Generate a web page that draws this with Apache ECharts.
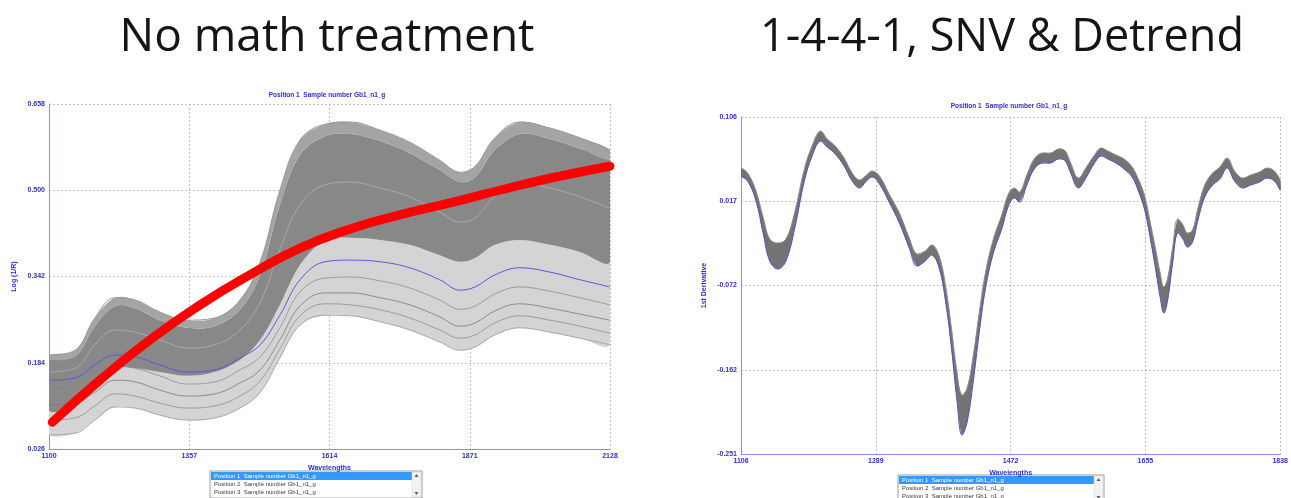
<!DOCTYPE html>
<html>
<head>
<meta charset="utf-8">
<title>NIR spectra before and after math treatment</title>
<script src="https://cdn.jsdelivr.net/npm/echarts@6/dist/echarts.min.js"></script>
<style>
  html, body { margin: 0; padding: 0; background: #ffffff; }
  #chart { width: 1291px; height: 498px; }
</style>
</head>
<body>
<div id="chart"></div>
<script>
// ---------- Raw spectra, log(1/R) ----------
const nirWl = [1100, 1148, 1184, 1221, 1258, 1303, 1353, 1404, 1450, 1487, 1523, 1560,
               1606, 1652, 1707, 1761, 1816, 1853, 1881, 1917, 1963, 2018, 2073, 2128];
const rawTop        = [0.198,0.207,0.266,0.303,0.299,0.277,0.262,0.266,0.299,0.369,0.500,0.592,0.621,0.625,0.610,0.588,0.555,0.533,0.544,0.596,0.625,0.614,0.596,0.574];
const rawCoreTop    = [0.189,0.196,0.251,0.288,0.284,0.262,0.248,0.251,0.281,0.345,0.473,0.565,0.599,0.603,0.590,0.568,0.537,0.515,0.524,0.574,0.603,0.594,0.576,0.555];
const rawCore1      = [0.167,0.174,0.217,0.244,0.240,0.226,0.211,0.217,0.244,0.295,0.391,0.473,0.510,0.515,0.504,0.488,0.460,0.442,0.449,0.489,0.513,0.504,0.488,0.467];
const rawCoreBottom = [0.097,0.107,0.143,0.174,0.174,0.167,0.160,0.167,0.189,0.226,0.290,0.363,0.409,0.413,0.409,0.400,0.381,0.369,0.376,0.400,0.409,0.400,0.387,0.369];
const rawBlue       = [0.152,0.156,0.180,0.198,0.195,0.180,0.167,0.171,0.193,0.217,0.271,0.336,0.369,0.372,0.369,0.358,0.336,0.317,0.323,0.345,0.358,0.350,0.336,0.323];
const rawMid1       = [0.130,0.134,0.160,0.178,0.174,0.160,0.145,0.149,0.171,0.195,0.248,0.314,0.339,0.341,0.334,0.321,0.299,0.282,0.288,0.310,0.323,0.315,0.303,0.290];
const rawMid2       = [0.107,0.110,0.130,0.152,0.149,0.134,0.123,0.127,0.147,0.171,0.226,0.288,0.312,0.312,0.303,0.290,0.268,0.251,0.257,0.279,0.292,0.284,0.273,0.262];
const rawMid3       = [0.079,0.083,0.105,0.127,0.123,0.110,0.101,0.105,0.123,0.151,0.209,0.270,0.292,0.290,0.281,0.266,0.244,0.229,0.235,0.257,0.270,0.262,0.251,0.238];
const rawBottom     = [0.052,0.055,0.079,0.103,0.101,0.088,0.079,0.083,0.101,0.130,0.193,0.253,0.271,0.270,0.259,0.244,0.222,0.207,0.213,0.235,0.248,0.240,0.229,0.217];

// Red trend curve drawn over the raw spectra
const trendWl  = [1106, 1193, 1285, 1377, 1468, 1560, 1652, 1743, 1835, 1926, 2018, 2128];
const trendVal = [0.075,0.152,0.226,0.290,0.345,0.394,0.429,0.455,0.477,0.500,0.522,0.544];

// Axis ticks, raw panel
const rawXTicks = { min: 1100, max: 2128, step: 257 };
const rawYTicks = { min: 0.026, max: 0.658, step: 0.158 };

// ---------- 1st derivative (1-4-4-1, SNV & Detrend) ----------
const derivWl = [1106,1115,1126,1136,1145,1156,1167,1179,1192,1203,1214,1223,1234,1246,1257,1267,1275,1284,1294,1307,
                 1321,1334,1345,1356,1365,1375,1384,1392,1399,1406,1413,1421,1429,1438,1449,1460,1469,1477,1484,1494,
                 1504,1515,1526,1537,1545,1553,1564,1575,1585,1595,1604,1615,1626,1637,1646,1654,1662,1669,1675,1680,
                 1685,1692,1699,1706,1712,1719,1726,1735,1745,1756,1766,1776,1787,1798,1810,1820,1830,1838];
const derivUpper = [0.0519,0.0466,0.0286,0.0000,-0.0233,-0.0275,-0.0233,0.0053,0.0509,0.0763,0.0911,0.0827,0.0752,0.0625,0.0466,0.0392,0.0435,0.0488,0.0435,0.0244,
                    0.0043,-0.0212,-0.0392,-0.0360,-0.0296,-0.0413,-0.0741,-0.1197,-0.1631,-0.1885,-0.1811,-0.1483,-0.1038,-0.0582,-0.0222,0.0022,0.0244,0.0308,0.0265,0.0445,
                    0.0615,0.0678,0.0678,0.0721,0.0710,0.0583,0.0413,0.0530,0.0647,0.0731,0.0700,0.0657,0.0615,0.0530,0.0392,0.0223,-0.0074,-0.0349,-0.0593,-0.0741,
                    -0.0656,-0.0318,-0.0021,-0.0084,-0.0169,-0.0137,0.0085,0.0329,0.0456,0.0530,0.0625,0.0488,0.0413,0.0445,0.0477,0.0519,0.0488,0.0392];
const derivLower = [0.0435,0.0382,0.0180,-0.0169,-0.0466,-0.0551,-0.0466,-0.0116,0.0382,0.0657,0.0805,0.0742,0.0668,0.0541,0.0382,0.0308,0.0371,0.0424,0.0350,0.0159,
                    -0.0063,-0.0318,-0.0519,-0.0466,-0.0402,-0.0540,-0.0911,-0.1409,-0.1928,-0.2309,-0.2171,-0.1758,-0.1250,-0.0752,-0.0370,-0.0127,0.0117,0.0202,0.0159,0.0339,
                    0.0509,0.0572,0.0572,0.0615,0.0604,0.0477,0.0308,0.0424,0.0562,0.0647,0.0615,0.0572,0.0509,0.0424,0.0265,0.0075,-0.0243,-0.0561,-0.0847,-0.1017,
                    -0.0890,-0.0487,-0.0169,-0.0233,-0.0318,-0.0265,-0.0042,0.0202,0.0329,0.0403,0.0519,0.0382,0.0308,0.0339,0.0371,0.0413,0.0382,0.0286];

const derivXTicks = { min: 1106, max: 1838, step: 183 };
const derivYTicks = { min: -0.251, max: 0.106, step: 0.08925 };

// ---------- Texts ----------
const panelTitles = ['No math treatment', '1-4-4-1, SNV & Detrend'];
const plotCaption = 'Position 1  Sample number Gb1_n1_g';
const listRows = ['Position 1  Sample number Gb1_n1_g',
                  'Position 2  Sample number Gb1_n1_g',
                  'Position 3  Sample number Gb1_n1_g'];

// ---------- Helpers ----------
const pair = (xs, ys) => xs.map((x, i) => [x, ys[i]]);

const AXIS_BLUE = '#2f2fd0';
const AXIS_LINE = '#8c8cf5';
const labelFont = { color: AXIS_BLUE, fontSize: 7, fontWeight: 'bold', fontFamily: 'Liberation Sans' };

function valueAxis(gridIndex, t, fmt, name, nameGap, rotate) {
  return {
    gridIndex, type: 'value', min: t.min, max: t.max, interval: t.step,
    name, nameLocation: 'middle', nameGap, nameRotate: rotate,
    nameTextStyle: { color: AXIS_BLUE, fontSize: 7, fontWeight: 'bold', fontFamily: 'Liberation Sans' },
    axisLine: { show: true, onZero: false, lineStyle: { color: AXIS_LINE, width: 1 } },
    axisTick: { show: false },
    axisLabel: Object.assign({ margin: 4, formatter: fmt, showMinLabel: true, showMaxLabel: true }, labelFont),
    splitLine: { show: true, lineStyle: { color: '#c2c2c2', type: [2, 2], width: 1 } }
  };
}

// Filled envelope between two spectra, placed through the axis scales
function band(xs, upper, lower, xi, color, z) {
  return {
    type: 'custom', coordinateSystem: 'cartesian2d', xAxisIndex: xi, yAxisIndex: xi,
    silent: true, clip: true, z: z || 2,
    data: [[xs[0], upper[0]]],
    renderItem: (params, api) => {
      const top = xs.map((x, i) => api.coord([x, upper[i]]));
      const bottom = xs.map((x, i) => api.coord([x, lower[i]])).reverse();
      return { type: 'polygon', shape: { points: top.concat(bottom), smooth: 0.35 },
               style: { fill: color, stroke: null } };
    }
  };
}
function trace(xs, ys, xi, color, width, z) {
  return { type: 'line', xAxisIndex: xi, yAxisIndex: xi, data: pair(xs, ys),
           smooth: 0.4, symbol: 'none', silent: true, z: z || 3,
           lineStyle: { color, width } };
}

// Selection list boxes under each plot
function listBox(x, y, w, h) {
  const rowH = 8;
  const els = [
    { type: 'rect', shape: { x, y, width: w, height: h }, style: { fill: '#ffffff', stroke: '#9c9c9c', lineWidth: 1 } },
    { type: 'rect', shape: { x: x + 1, y: y + 1, width: w - 11, height: rowH }, style: { fill: '#3399ff' } },
    { type: 'rect', shape: { x: x + w - 10, y: y + 1, width: 9, height: h - 2 }, style: { fill: '#f2f2f2', stroke: '#d0d0d0', lineWidth: 0.5 } },
    { type: 'polygon', shape: { points: [[x + w - 7.5, y + 6], [x + w - 3.5, y + 6], [x + w - 5.5, y + 3]] }, style: { fill: '#606060' } },
    { type: 'polygon', shape: { points: [[x + w - 7.5, y + h - 6], [x + w - 3.5, y + h - 6], [x + w - 5.5, y + h - 3]] }, style: { fill: '#606060' } }
  ];
  listRows.forEach((txt, i) => {
    els.push({ type: 'text', x: x + 4, y: y + 1 + rowH * i + rowH / 2,
               style: { text: txt, fill: i === 0 ? '#ffffff' : '#3a3a3a', fontSize: 6,
                        fontFamily: 'Liberation Sans', verticalAlign: 'middle', align: 'left' } });
  });
  return els;
}

const chart = echarts.init(document.getElementById('chart'), null, { renderer: 'canvas' });

const fmtInt = v => String(Math.round(v));
const fmt3 = v => (Math.abs(v) < 1e-9 ? 0 : v).toFixed(3);

chart.setOption({
  animation: false,
  backgroundColor: '#ffffff',
  grid: [
    { left: 49, top: 104, width: 561, height: 345, containLabel: false },
    { left: 741, top: 117, width: 542, height: 337, containLabel: false }
  ],
  xAxis: [
    valueAxis(0, rawXTicks, fmtInt, 'Wavelengths', 12, 0),
    valueAxis(1, derivXTicks, fmtInt, 'Wavelengths', 13, 0)
  ],
  yAxis: [
    valueAxis(0, rawYTicks, fmt3, 'Log (1/R)', 31, 90),
    valueAxis(1, derivYTicks, fmt3, '1st Derivative', 33, 90)
  ],
  graphic: [
    { type: 'text', x: 327, y: 38, style: { text: panelTitles[0], fontSize: 46, fontFamily: 'Open Sans', fill: '#151515', align: 'center', verticalAlign: 'middle' } },
    { type: 'text', x: 1002, y: 38, style: { text: panelTitles[1], fontSize: 45, fontFamily: 'Open Sans', fill: '#151515', align: 'center', verticalAlign: 'middle' } },
    { type: 'text', x: 327, y: 95, style: { text: plotCaption, fontSize: 6.5, fontWeight: 'bold', fontFamily: 'Liberation Sans', fill: AXIS_BLUE, align: 'center', verticalAlign: 'middle' } },
    { type: 'text', x: 1009, y: 106, style: { text: plotCaption, fontSize: 6.5, fontWeight: 'bold', fontFamily: 'Liberation Sans', fill: AXIS_BLUE, align: 'center', verticalAlign: 'middle' } }
  ].concat(listBox(210, 471, 212, 27), listBox(898, 475, 206, 27)),
  series: [
    // raw spectra: overlapping envelopes of many samples
    band(nirWl, rawCoreBottom, rawBottom, 0, '#d4d4d4'),
    band(nirWl, rawCoreTop, rawCoreBottom, 0, '#888888'),
    band(nirWl, rawTop, rawCoreTop, 0, '#a4a4a4'),
    trace(nirWl, rawMid3, 0, '#8e8e8e', 0.8),
    trace(nirWl, rawMid2, 0, '#7a7a7a', 0.8),
    trace(nirWl, rawMid1, 0, '#8e8e8e', 0.8),
    trace(nirWl, rawCore1, 0, '#a9a9a9', 1),
    trace(nirWl, rawTop, 0, '#9a9a9a', 1),
    trace(nirWl, rawBottom, 0, '#a6a6a6', 1),
    trace(nirWl, rawBlue, 0, '#5a5ad6', 1),
    // red trend
    { type: 'line', xAxisIndex: 0, yAxisIndex: 0, data: pair(trendWl, trendVal), smooth: 0.5,
      symbol: 'none', silent: true, z: 5,
      lineStyle: { color: '#ff0000', width: 9, cap: 'round' } },

    // derivative spectra envelope
    band(derivWl, derivUpper, derivLower, 1, '#737373'),
    trace(derivWl, derivUpper, 1, '#8c8c8c', 1),
    trace(derivWl, derivLower, 1, '#5050cc', 1)
  ]
});
</script>
</body>
</html>
